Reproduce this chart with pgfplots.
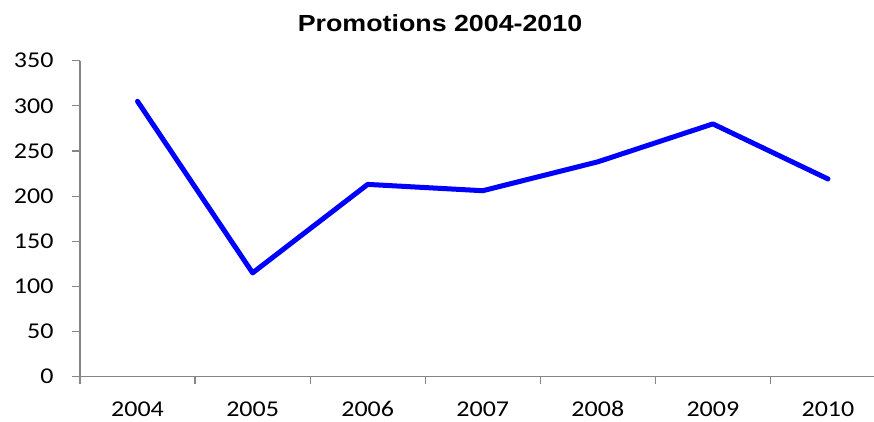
\documentclass[border=0pt]{standalone}
\usepackage{fontspec}
\setmainfont{Carlito}
\newfontfamily\arialfont{Liberation Sans}
\usepackage{pgfplots}
\pgfplotsset{compat=1.18}
\definecolor{axisgray}{RGB}{134,134,134}
\definecolor{lineblue}{RGB}{0,0,255}
\begin{document}
\begin{tikzpicture}[x=1pt,y=1pt]
\useasboundingbox (0,0) rectangle (874,421);
\begin{axis}[
  at={(80pt,44.3pt)}, anchor=south west,
  scale only axis,
  width=794pt, height=316pt,
  xmin=-0.5, xmax=6.4,
  ymin=0, ymax=350,
  axis x line*=bottom, axis y line*=left,
  axis line style={axisgray, line width=1.2pt},
  every outer x axis line/.append style={-},
  every outer y axis line/.append style={-},
  xtick={-0.5,0.5,1.5,2.5,3.5,4.5,5.5},
  xticklabels={},
  extra x ticks={0,1,2,3,4,5,6},
  extra x tick labels={2004,2005,2006,2007,2008,2009,2010},
  extra x tick style={major tick length=0pt},
  ytick={0,50,100,150,200,250,300,350},
  tick align=outside,
  major tick length=7.5pt,
  tick style={axisgray, line width=1.2pt},
  /pgf/number format/assume math mode=true,
  tick label style={font=\fontsize{22.6}{24}\selectfont, text=black, xscale=1.15},
  xticklabel style={anchor=base, yshift=-39.5pt},
  yticklabel style={anchor=east, xshift=-13pt},
  clip=false,
]
\addplot[lineblue, line width=5pt, line join=round, line cap=round] coordinates {
  (0,305) (1,115) (2,213) (3,206) (4,238) (5,280) (6,219)
};
\end{axis}
\node[anchor=base, font=\arialfont\bfseries\fontsize{23.3}{26}\selectfont, xscale=1.15] at (440,389.3) {Promotions 2004-2010};
\end{tikzpicture}
\end{document}
